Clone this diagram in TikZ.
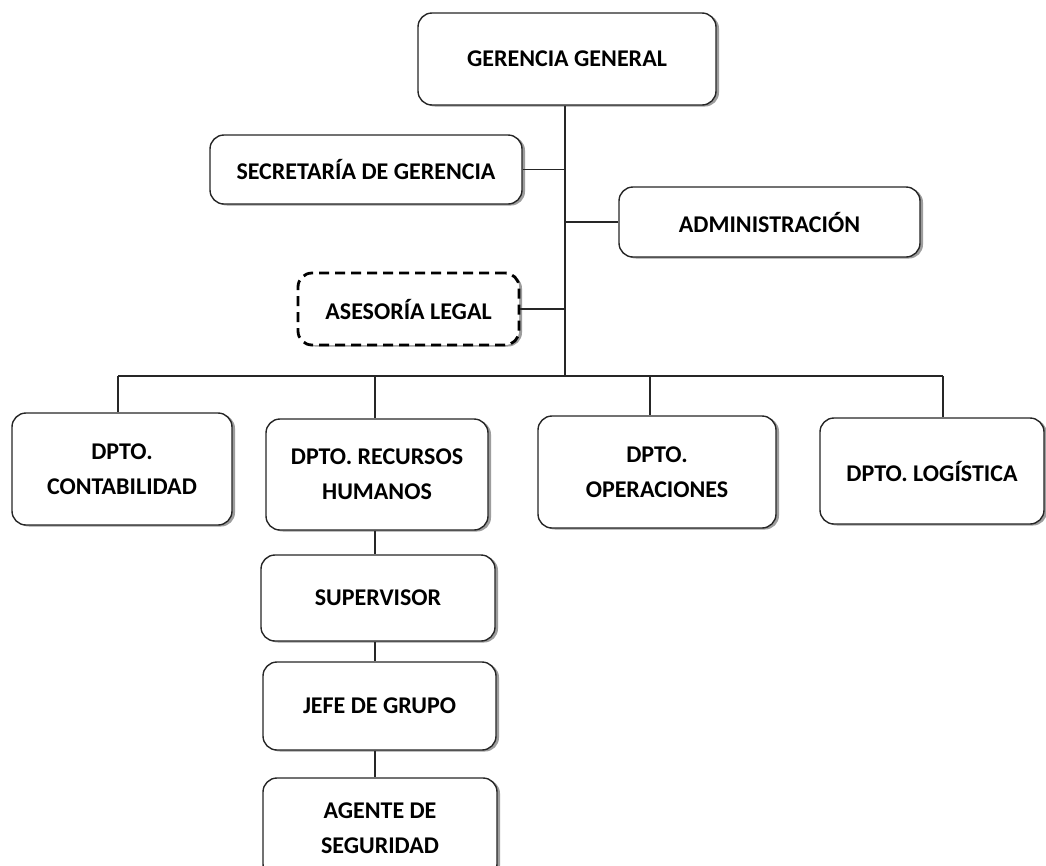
\documentclass[tikz,border=0pt]{standalone}
\usepackage{fontspec}
\setmainfont{Carlito}
\usetikzlibrary{shadows}
\begin{document}
\begin{tikzpicture}[x=1pt,y=-1pt,
  orgbox/.style={draw=black!85, line width=1.4pt, rounded corners=14pt, fill=white,
    align=center, font=\bfseries\fontsize{24}{35}\selectfont, inner sep=0pt,
    drop shadow={shadow xshift=3pt, shadow yshift=-1.5pt, opacity=0.55, fill=black!70}},
  link/.style={draw=black!85, line width=1.3pt}]
\useasboundingbox (0,0) rectangle (1046,865);
\node[orgbox, minimum width=298pt, minimum height=92pt] (gg) at (567,59) {GERENCIA GENERAL};
\node[orgbox, minimum width=312pt, minimum height=69pt] (sec) at (366,169.5) {SECRETARÍA DE GERENCIA};
\node[orgbox, minimum width=301pt, minimum height=70pt] (adm) at (769.5,222) {ADMINISTRACIÓN};
\node[orgbox, draw=black, dash pattern=on 10pt off 6pt, line width=2.8pt, minimum width=221pt, minimum height=72pt] (ase) at (408.5,309) {ASESORÍA LEGAL};
\node[orgbox, minimum width=220pt, minimum height=112pt] (con) at (122,469) {DPTO.\\CONTABILIDAD};
\node[orgbox, minimum width=222pt, minimum height=111pt] (rh) at (377,474.5) {DPTO. RECURSOS\\HUMANOS};
\node[orgbox, minimum width=238pt, minimum height=112pt] (ope) at (657,472) {DPTO.\\OPERACIONES};
\node[orgbox, minimum width=224pt, minimum height=106pt] (log) at (932,471) {DPTO. LOGÍSTICA};
\node[orgbox, minimum width=234pt, minimum height=86pt] (sup) at (378,598) {SUPERVISOR};
\node[orgbox, minimum width=233pt, minimum height=88pt] (jefe) at (379.5,706) {JEFE DE GRUPO};
\node[orgbox, minimum width=234pt, minimum height=100pt] (age) at (380,828) {AGENTE DE\\SEGURIDAD};
\coordinate (busend) at (565,376);
\draw[link] (gg.south -| busend) -- (busend);
\draw[link] (sec.east) -- (sec.east -| busend);
\draw[link] (adm.west) -- (adm.west -| busend);
\draw[link] (ase.east) -- (ase.east -| busend);
\coordinate (bl) at (118,376);
\coordinate (br) at (943,376);
\draw[link] (bl) -- (br);
\draw[link] (bl) -- (bl |- con.north);
\draw[link] (375,376) -- (375,0 |- rh.north);
\draw[link] (650,376) -- (650,0 |- ope.north);
\draw[link] (br) -- (br |- log.north);
\draw[link] (375,0 |- rh.south) -- (375,0 |- sup.north);
\draw[link] (375,0 |- sup.south) -- (375,0 |- jefe.north);
\draw[link] (375,0 |- jefe.south) -- (375,0 |- age.north);
\end{tikzpicture}
\end{document}
